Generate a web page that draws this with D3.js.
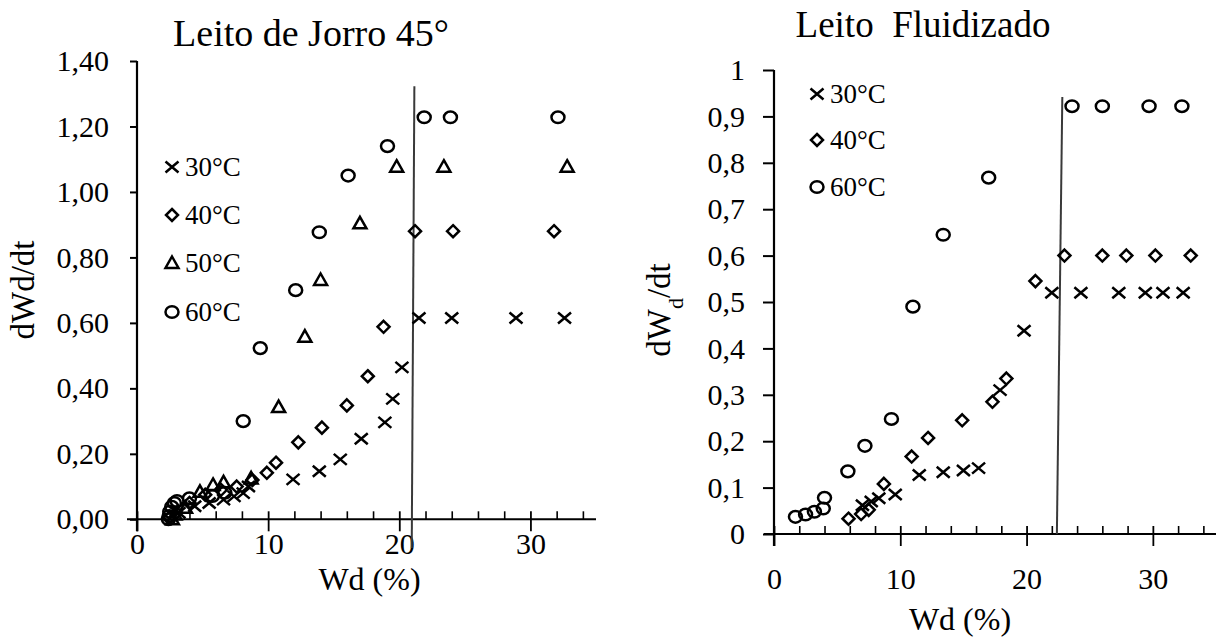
<!DOCTYPE html>
<html>
<head>
<meta charset="utf-8">
<script src="https://cdn.jsdelivr.net/npm/d3@7"></script>
<style>
  body { margin: 0; background: #fff; }
</style>
</head>
<body>
<script>
// Leito de Jorro 45° : [Wd (%), dWd/dt]
var jorro30 = [[3.2,0.02],[4.4,0.04],[5.5,0.05],[6.6,0.06],[7.4,0.07],[8.1,0.08],[8.5,0.1],[11.9,0.122],[13.9,0.147],[15.5,0.183],[17.1,0.246],[18.9,0.296],[19.5,0.368],[20.2,0.464],[21.5,0.615],[24.0,0.615],[28.9,0.615],[32.6,0.615]];
var jorro40 = [[2.5,0.005],[3.0,0.02],[4.0,0.05],[5.2,0.075],[6.4,0.09],[7.6,0.1],[8.8,0.12],[9.9,0.142],[10.6,0.173],[12.3,0.235],[14.1,0.28],[16.0,0.348],[17.6,0.437],[18.8,0.588],[21.2,0.88],[24.1,0.88],[31.8,0.88]];
var jorro50 = [[2.7,0.0],[2.9,0.015],[3.7,0.035],[4.8,0.084],[5.8,0.105],[6.6,0.113],[8.7,0.125],[10.8,0.343],[12.8,0.558],[14.0,0.731],[17.0,0.904],[19.8,1.077],[23.4,1.077],[32.8,1.077]];
var jorro60 = [[2.4,0.0],[2.45,0.01],[2.5,0.023],[2.65,0.038],[2.85,0.05],[3.05,0.056],[4.0,0.064],[5.75,0.071],[6.7,0.081],[8.1,0.30],[9.4,0.523],[12.1,0.70],[13.9,0.877],[16.1,1.05],[19.1,1.14],[21.9,1.228],[23.9,1.228],[32.1,1.228]];
var jorroLine = [[20.95,-0.088],[21.15,1.323]];

// Leito Fluidizado
var fluid30 = [[7.0,0.062],[7.7,0.07],[8.3,0.077],[9.6,0.085],[11.5,0.127],[13.4,0.133],[15.0,0.137],[16.2,0.142],[17.9,0.31],[19.8,0.438],[22.0,0.52],[24.3,0.52],[27.3,0.52],[29.4,0.52],[30.8,0.52],[32.4,0.52]];
var fluid40 = [[5.9,0.033],[6.9,0.043],[7.5,0.052],[8.7,0.108],[10.9,0.167],[12.2,0.207],[14.9,0.245],[17.3,0.285],[18.4,0.335],[20.7,0.545],[23.0,0.6],[26.0,0.6],[27.9,0.6],[30.2,0.6],[33.0,0.6]];
var fluid60 = [[1.7,0.037],[2.5,0.042],[3.2,0.048],[3.9,0.055],[4.0,0.078],[5.85,0.135],[7.2,0.19],[9.3,0.248],[11.0,0.49],[13.4,0.645],[17.0,0.768],[23.6,0.922],[26.0,0.922],[29.7,0.922],[32.3,0.922]];
var fluidLine = [[22.4,0],[22.83,0.942]];

var xTicks = [0, 10, 20, 30];
var xMinorTicks = [2,4,6,8,12,14,16,18,22,24,26,28,32,34];
var jorroYTicks = [0, 0.2, 0.4, 0.6, 0.8, 1.0, 1.2, 1.4];
var fluidYTicks = [0, 0.1, 0.2, 0.3, 0.4, 0.5, 0.6, 0.7, 0.8, 0.9, 1];
var jorroLegend = ["30°C", "40°C", "50°C", "60°C"];
var fluidLegend = ["30°C", "40°C", "60°C"];

var width = 1218, height = 637;
var FONT = '"Liberation Serif", "Times New Roman", serif';
var ptBR = d3.formatLocale({decimal: ",", thousands: ".", grouping: [3], currency: ["R$", ""]});

var markers = {
  x: "M-6.5,-5.5L6.5,5.5M-6.5,5.5L6.5,-5.5",
  diamond: "M0,-6L6,0L0,6L-6,0Z",
  triangle: "M0,-6.5L6.5,5L-6.5,5Z",
  circle: "M-6.5,0a6.5,5.8 0 1,0 13,0a6.5,5.8 0 1,0 -13,0"
};

var svg = d3.select("body").append("svg")
    .attr("width", width)
    .attr("height", height)
    .style("font-family", FONT);

function drawChart(c) {
  var g = svg.append("g");
  var x = d3.scaleLinear().domain([0, 35]).range(c.xRange);
  var y = d3.scaleLinear().domain(c.yDomain).range(c.yRange);

  // y axis
  var yAxis = g.append("g")
      .attr("transform", `translate(${c.xRange[0]},0)`)
      .call(d3.axisLeft(y).tickValues(c.yTicks).tickSize(c.yTickLen).tickPadding(c.yPad).tickFormat(c.yFormat))
      .attr("font-family", FONT);
  yAxis.select(".domain").remove();
  yAxis.selectAll("line").attr("stroke", "#000").attr("stroke-width", 2);
  yAxis.selectAll("text").style("font-size", "30px");
  g.append("line")
      .attr("x1", c.xRange[0]).attr("x2", c.xRange[0])
      .attr("y1", c.yRange[1]).attr("y2", c.yRange[0] + 12)
      .attr("stroke", "#000").attr("stroke-width", 2.2);

  // x axis: crossing major ticks, inside minor ticks
  var xAxis = g.append("g")
      .attr("transform", `translate(0,${y(0)})`)
      .call(d3.axisBottom(x).tickValues(xTicks).tickSize(12).tickPadding(c.xPad).tickFormat(d3.format("d")))
      .attr("font-family", FONT);
  xAxis.select(".domain").remove();
  xAxis.selectAll("line").attr("y1", -8).attr("stroke", "#000").attr("stroke-width", 1.8);
  xAxis.selectAll("text").style("font-size", "30px");
  var xMinor = g.append("g")
      .attr("transform", `translate(0,${y(0)})`)
      .call(d3.axisTop(x).tickValues(xMinorTicks).tickSize(8).tickFormat(""));
  xMinor.select(".domain").remove();
  xMinor.selectAll("line").attr("stroke", "#000").attr("stroke-width", 1.6);
  g.append("line")
      .attr("x1", c.xRange[0] - 10).attr("x2", c.xRange[1])
      .attr("y1", y(0)).attr("y2", y(0))
      .attr("stroke", "#000").attr("stroke-width", 2);

  // vertical reference line
  g.append("path")
      .datum(c.line)
      .attr("d", d3.line().x(d => x(d[0])).y(d => y(d[1])))
      .attr("stroke", "#3a3a3a").attr("stroke-width", 2).attr("fill", "none");

  // series
  c.series.forEach(s => {
    g.append("g").selectAll("path")
      .data(s.data)
      .enter().append("path")
        .attr("transform", d => `translate(${x(d[0])},${y(d[1])})`)
        .attr("d", markers[s.marker])
        .attr("fill", "none")
        .attr("stroke", "#000")
        .attr("stroke-width", 2.5);
  });

  // legend
  var leg = g.append("g").selectAll("g")
      .data(c.series)
      .enter().append("g")
        .attr("transform", (d, i) => `translate(${c.legendX},${c.legendY[i]})`);
  leg.append("path")
      .attr("d", d => markers[d.marker])
      .attr("fill", "none").attr("stroke", "#000").attr("stroke-width", 2.5);
  leg.append("text")
      .attr("x", 13).attr("dy", "0.35em")
      .style("font-size", "27px")
      .text((d, i) => c.legend[i]);

  // titles
  g.append("text")
      .attr("x", c.titlePos[0]).attr("y", c.titlePos[1])
      .attr("text-anchor", "middle")
      .style("font-size", c.titleSize)
      .style("white-space", "pre")
      .text(c.title);
  g.append("text")
      .attr("x", (c.xRange[0] + c.xRange[1]) / 2 + c.xLabelShift).attr("y", c.xLabelY)
      .attr("text-anchor", "middle")
      .style("font-size", "32px")
      .text("Wd (%)");
  var yl = g.append("text")
      .attr("transform", `translate(${c.yLabelPos[0]},${c.yLabelPos[1]}) rotate(-90)`)
      .attr("text-anchor", "middle")
      .style("font-size", "33px");
  c.yLabel(yl);
}

drawChart({
  xRange: [137, 596],
  yDomain: [0, 1.4],
  yRange: [519.3, 61],
  yTicks: jorroYTicks,
  yFormat: ptBR.format(".2f"),
  yTickLen: 7, yPad: 21, xPad: 1,
  line: jorroLine,
  series: [
    {data: jorro30, marker: "x"},
    {data: jorro40, marker: "diamond"},
    {data: jorro50, marker: "triangle"},
    {data: jorro60, marker: "circle"}
  ],
  legend: jorroLegend,
  legendX: 172, legendY: [167, 215, 263, 312],
  title: "Leito de Jorro 45°",
  titleSize: "38px",
  titlePos: [311, 46],
  xLabelShift: 3, xLabelY: 590,
  yLabelPos: [34, 290],
  yLabel: t => t.text("dWd/dt")
});

drawChart({
  xRange: [774, 1216],
  yDomain: [0, 1],
  yRange: [534, 70],
  yTicks: fluidYTicks,
  yFormat: d => ptBR.format("~g")(d),
  yTickLen: 11, yPad: 18, xPad: 22,
  line: fluidLine,
  series: [
    {data: fluid30, marker: "x"},
    {data: fluid40, marker: "diamond"},
    {data: fluid60, marker: "circle"}
  ],
  legend: fluidLegend,
  legendX: 817, legendY: [94, 140, 187],
  title: "Leito  Fluidizado",
  titleSize: "37px",
  titlePos: [923, 37],
  xLabelShift: -35, xLabelY: 630,
  yLabelPos: [670, 310],
  yLabel: t => {
    t.append("tspan").text("dW");
    t.append("tspan").attr("baseline-shift", "sub").style("font-size", "22px").text("d");
    t.append("tspan").text("/dt");
  }
});
</script>
</body>
</html>
